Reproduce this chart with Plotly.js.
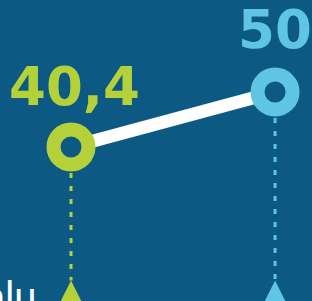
<!DOCTYPE html>
<html>
<head>
<meta charset="utf-8">
<script src="https://cdn.plot.ly/plotly-3.0.1.min.js"></script>
<style>html,body{margin:0;padding:0;background:#0c5a84;overflow:hidden}</style>
</head>
<body>
<div id="chart" style="width:312px;height:301px"></div>
<script>
// Data
var categories = [0, 1];
var values = [40.4, 50];
var valueLabels = ["40,4", "50"];
var seriesColors = ["#b5d13a", "#5ec5e2"];
var baselineValue = 17.1; // where the dashed drop lines end (triangle tips)

var bg = "#0c5a84";
var traces = [];

// dashed drop lines
for (var i = 0; i < categories.length; i++) {
  traces.push({
    x: [categories[i], categories[i]],
    y: [values[i], baselineValue],
    mode: "lines",
    line: {color: seriesColors[i], width: 3, dash: "5px,8px"},
    hoverinfo: "skip"
  });
}
// connecting line
traces.push({
  x: categories, y: values, mode: "lines",
  line: {color: "#ffffff", width: 13}, hoverinfo: "skip"
});
// ring markers
traces.push({
  x: categories, y: values, mode: "markers",
  marker: {size: 35, color: bg, line: {width: 14, color: seriesColors}},
  hoverinfo: "skip"
});
// triangles at baseline
traces.push({
  x: categories, y: categories.map(function(){return baselineValue;}), mode: "markers",
  marker: {symbol: "arrow-up", size: 21, color: seriesColors, line: {width: 0}},
  hoverinfo: "skip"
});

var annotations = [
  {x: categories[0], y: values[0], xref: "x", yref: "y", text: valueLabels[0],
   showarrow: false, xanchor: "center", yanchor: "bottom", xshift: 3, yshift: 28,
   font: {family: "DejaVu Sans", size: 53, weight: "bold", color: seriesColors[0]}},
  {x: categories[1], y: values[1], xref: "x", yref: "y", text: valueLabels[1],
   showarrow: false, xanchor: "left", yanchor: "bottom", xshift: -39, yshift: 30,
   font: {family: "DejaVu Sans", size: 53, weight: "bold", color: seriesColors[1]}},
  {x: 0, y: 0, xref: "paper", yref: "paper", text: "alu",
   showarrow: false, xanchor: "left", yanchor: "bottom", xshift: -17, yshift: -20,
   font: {family: "Lato", size: 40, weight: 400, color: "#ffffff"}}
];

var layout = {
  width: 312, height: 301,
  margin: {l: 0, r: 0, t: 0, b: 0, pad: 0},
  paper_bgcolor: bg, plot_bgcolor: bg,
  showlegend: false,
  xaxis: {visible: false, range: [-0.348, 1.181], fixedrange: true},
  yaxis: {visible: false, range: [13.52, 66.06], fixedrange: true},
  annotations: annotations
};

Plotly.newPlot("chart", traces, layout, {displayModeBar: false, staticPlot: true});
</script>
</body>
</html>
